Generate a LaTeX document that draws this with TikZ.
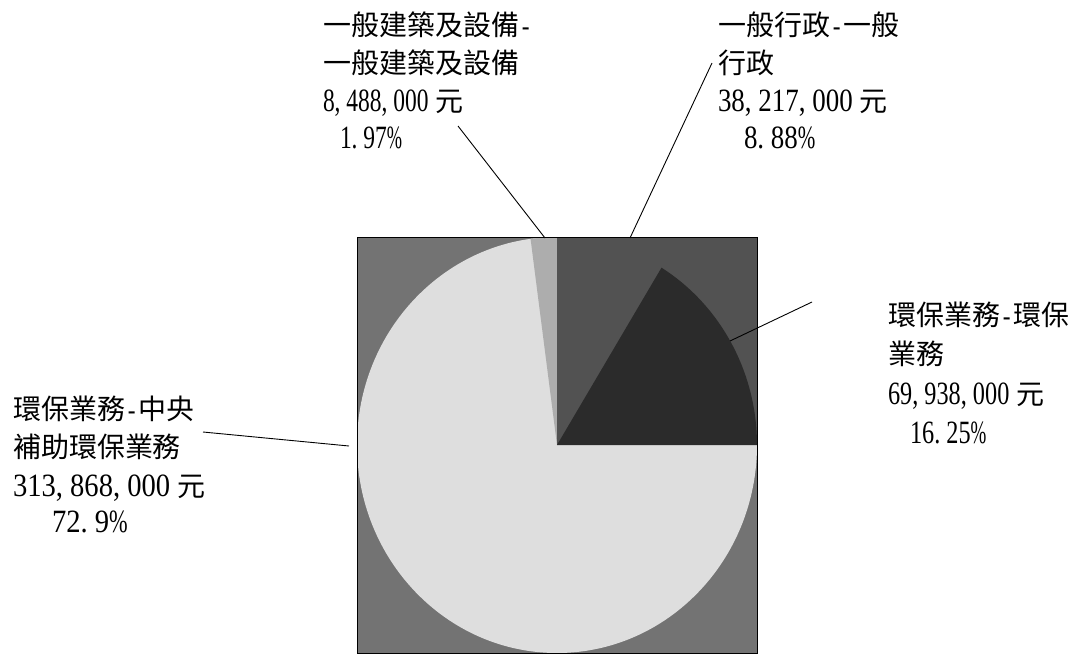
\documentclass[tikz,border=0pt]{standalone}
\usepackage{fontspec}
\usepackage{graphicx}
\newfontfamily\cjkf{Noto Sans CJK TC}
\newfontfamily\numf[FakeStretch=0.83]{Liberation Serif}
\newcommand\cma{\makebox[13.5pt][l]{,}}
\newcommand\dt{\makebox[13.5pt][l]{.}}
\newcommand\pc{\scalebox{0.78}[1]{\%}}
\newcommand\yuan{{\cjkf\fontsize{28}{28}\selectfont 元}}
\newcommand\hy{{\numf\makebox[13.5pt][c]{-}}}
\definecolor{cornergray}{gray}{0.45}
\definecolor{bigslice}{gray}{0.87}
\definecolor{quadgray}{gray}{0.32}
\definecolor{wedgegray}{gray}{0.17}
\definecolor{smallgray}{gray}{0.68}
\begin{document}
\begin{tikzpicture}[x=1pt,y=-1pt,
  lbl/.style={anchor=base west, inner sep=0pt, outer sep=0pt},
  cj/.style={lbl, font=\cjkf\fontsize{28}{28}\selectfont},
  nm/.style={lbl, font=\numf\fontsize{32.5}{32.5}\selectfont},
  leader/.style={draw=black, line width=0.9pt}]
\useasboundingbox (0,0) rectangle (1080,657);
% pie
\coordinate (c) at (557,445);
\fill[cornergray] (357,237) rectangle (757,653);
\fill[bigslice] (c) ellipse [x radius=200, y radius=208];
\fill[smallgray] (c) -- ++(-89.5:200 and 208) arc[start angle=-89.5, end angle=-97.6, x radius=200, y radius=208] -- cycle;
\fill[quadgray] (557,237) rectangle (757,445);
\fill[wedgegray] (c) -- ++(0:200 and 208) arc[start angle=0, end angle=-58.5, x radius=200, y radius=208] -- cycle;
\draw[line width=0.8pt] (357,237) rectangle (757,653);
% label A
\node[cj] (a1) at (323,35) {一般建築及設備\hy};
\node[cj] (a2) at (323,73) {一般建築及設備};
\node[nm] (a3) at (323,111) {\scalebox{0.87}[1]{8\cma488\cma000}\hspace{7pt}\yuan};
\node[nm] (a4) at (323,148) {\hspace{17pt}\scalebox{0.87}[1]{1\dt97\pc}};
% label B
\node[cj] (b1) at (718,35) {一般行政\hy 一般};
\node[cj] (b2) at (718,73) {行政};
\node[nm] (b3) at (718,111) {\scalebox{1.0}[1]{38\cma217\cma000}\hspace{7pt}\yuan};
\node[nm] (b4) at (718,148) {\hspace{26pt}\scalebox{1.0}[1]{8\dt88\pc}};
% label C
\node[cj] (c1) at (888,325) {環保業務\hy 環保};
\node[cj] (c2) at (888,364) {業務};
\node[nm] (c3) at (888,404) {\scalebox{0.9}[1]{69\cma938\cma000}\hspace{7pt}\yuan};
\node[nm] (c4) at (888,443) {\hspace{22pt}\scalebox{0.9}[1]{16\dt25\pc}};
% label D
\node[cj] (d1) at (13,419) {環保業務\hy 中央};
\node[cj] (d2) at (13,457) {補助環保業務};
\node[nm] (d3) at (13,496) {\scalebox{1.06}[1]{313\cma868\cma000}\hspace{7pt}\yuan};
\node[nm] (d4) at (13,532) {\hspace{39pt}\scalebox{1.06}[1]{72\dt9\pc}};
% leaders
\coordinate (la) at (458,126); \coordinate (pa) at (545,238);
\coordinate (lb) at (712,63);  \coordinate (pb) at (630,238);
\coordinate (lc) at (812,302); \coordinate (pc) at (730,341);
\coordinate (ld) at (203,432); \coordinate (pd) at (349,446);
\draw[leader] (la) -- (pa);
\draw[leader] (lb) -- (pb);
\draw[leader] (lc) -- (pc);
\draw[leader] (ld) -- (pd);
\end{tikzpicture}
\end{document}
